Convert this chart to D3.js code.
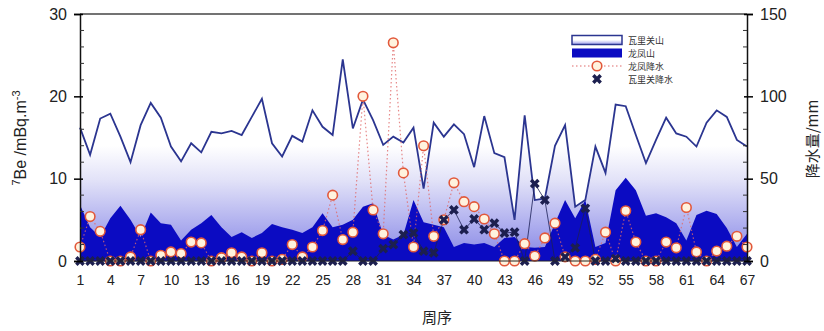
<!DOCTYPE html>
<html>
<head>
<meta charset="utf-8">
<script src="https://cdn.jsdelivr.net/npm/d3@7"></script>
<style>
  body { margin: 0; background: #fff; }
  text { font-family: Arial, "Liberation Sans", sans-serif; }
  .cjk { font-family: "Noto Sans CJK SC", sans-serif; }
</style>
</head>
<body>
<div id="chart"></div>
<script>
// week index 1..67
const weeks = d3.range(1, 68);

// 7Be, mBq/m3 - Waliguan
const waliguanBe = [16.2, 12.9, 17.3, 17.9, 15.1, 12.0, 16.5, 19.2, 17.4, 13.9,
  12.1, 14.3, 13.2, 15.7, 15.5, 15.8, 15.3, 17.5, 19.7, 14.3,
  12.7, 15.2, 14.5, 18.3, 16.3, 15.3, 24.5, 16.1, 19.6, 17.1,
  14.1, 15.1, 14.4, 16.2, 8.8, 16.8, 15.1, 16.6, 15.4, 11.4,
  17.6, 13.1, 12.6, 5.0, 17.7, 7.4, 7.6, 14.0, 16.5, 6.6,
  7.4, 13.9, 10.7, 19.0, 18.8, 15.3, 11.9, 14.7, 17.4, 15.5,
  15.1, 13.9, 16.8, 18.3, 17.5, 14.7, 13.9];

// 7Be, mBq/m3 - Longfengshan
const longfengBe = [6.8, 4.1, 2.9, 5.2, 6.7, 5.0, 2.9, 5.9, 4.6, 4.4,
  2.5, 3.8, 4.6, 5.6, 4.1, 2.9, 3.5, 2.8, 3.4, 4.5,
  4.1, 3.8, 3.4, 4.1, 5.8, 4.1, 4.4, 5.0, 6.6, 7.0,
  3.2, 2.6, 3.2, 7.4, 4.7, 4.4, 4.1, 1.7, 2.2, 2.0,
  2.2, 1.7, 2.8, 2.9, 1.7, 1.6, 1.7, 4.6, 7.4, 5.2,
  7.4, 1.7, 2.2, 8.6, 10.1, 8.6, 5.5, 5.8, 5.3, 4.6,
  2.5, 5.6, 6.1, 5.7, 4.0, 1.7, 3.3];

// precipitation, mm - Longfengshan
const longfengRain = [8.5, 27, 18, 0, 0, 2.5, 19, 0, 3.5, 5.5,
  4.5, 11.5, 11, 0, 2, 5, 2.5, 0, 5, 0,
  1, 10, 2.5, 8.5, 18.5, 40, 13, 17.5, 100, 31,
  16.5, 132.5, 53.5, 8.5, 70, 15, 25, 47.5, 36, 33,
  25.5, 16.5, 0, 0, 10.5, 3, 14, 23, 2.5, 0,
  0, 1, 17.5, 0, 30.5, 11.5, 0, 0, 11.5, 8,
  32.5, 5.5, 0, 6, 9, 15, 8.5];

// precipitation, mm - Waliguan
const waliguanRain = [0, 0, 0, 0, 0, 0, 0, 0, 0, 0,
  0, 0, 0, 0, 0, 0, 0, 0, 0, 0,
  0, 0, 0, 0, 0, 0, 0, 6, 0, 0,
  7.5, 10, 16, 17, 6, 5, 25, 31, 19, 25.5,
  19, 23, 17, 17.5, 0, 47, 37, 0, 2.5, 8,
  32, 0, 0, 1.5, 0, 0, 0, 0, 0, 0,
  0, 0, 0, 0, 0, 0, 0];

const xTicks = d3.range(1, 68, 3);
const leftTicks = [0, 10, 20, 30];
const rightTicks = [0, 50, 100, 150];

const seriesNames = ['瓦里关山', '龙凤山', '龙凤降水', '瓦里关降水'];

const W = 824, H = 331;
const mLeft = 80, mRight = 747, mTop = 14, mBottom = 261;

const svg = d3.select('#chart').append('svg')
  .attr('width', W).attr('height', H);

const x = d3.scaleLinear().domain([1, 67]).range([mLeft, mRight]);
const yL = d3.scaleLinear().domain([0, 30]).range([mBottom, mTop]);
const yR = d3.scaleLinear().domain([0, 150]).range([mBottom, mTop]);

const defs = svg.append('defs');
const grad = defs.append('linearGradient')
  .attr('id', 'waliGrad')
  .attr('gradientUnits', 'userSpaceOnUse')
  .attr('x1', 0).attr('x2', 0)
  .attr('y1', yL(14)).attr('y2', yL(0));
grad.append('stop').attr('offset', 0).attr('stop-color', '#ffffff');
grad.append('stop').attr('offset', 0.3).attr('stop-color', '#e2e2f8');
grad.append('stop').attr('offset', 0.7).attr('stop-color', '#acacee');
grad.append('stop').attr('offset', 1).attr('stop-color', '#8585e4');

const legGrad = defs.append('linearGradient')
  .attr('id', 'legGrad').attr('x1', 0).attr('x2', 0).attr('y1', 0).attr('y2', 1);
legGrad.append('stop').attr('offset', 0).attr('stop-color', '#ffffff');
legGrad.append('stop').attr('offset', 0.5).attr('stop-color', '#ffffff');
legGrad.append('stop').attr('offset', 1).attr('stop-color', '#9a9aea');

const plot = svg.append('g');

// Waliguan gradient area
const areaW = d3.area()
  .x((d, i) => x(weeks[i]))
  .y0(yL(0))
  .y1(d => yL(d));
plot.append('path')
  .datum(waliguanBe)
  .attr('d', areaW)
  .attr('fill', 'url(#waliGrad)');

// Longfeng dark area
plot.append('path')
  .datum(longfengBe)
  .attr('d', areaW)
  .attr('fill', '#0b0bc2');

// Waliguan line
const lineL = d3.line()
  .x((d, i) => x(weeks[i]))
  .y(d => yL(d));
plot.append('path')
  .datum(waliguanBe)
  .attr('d', lineL)
  .attr('fill', 'none')
  .attr('stroke', '#2b3590')
  .attr('stroke-width', 1.8);

// precipitation lines
const lineR = d3.line()
  .x((d, i) => x(weeks[i]))
  .y(d => yR(d));

plot.append('path')
  .datum(longfengRain)
  .attr('d', lineR)
  .attr('fill', 'none')
  .attr('stroke', '#e06a6a')
  .attr('stroke-opacity', 0.8)
  .attr('stroke-width', 1.2)
  .attr('stroke-dasharray', '1.5,2.5');

plot.append('path')
  .datum(waliguanRain)
  .attr('d', lineR)
  .attr('fill', 'none')
  .attr('stroke', '#1c1f55')
  .attr('stroke-width', 0.8);

// circles
plot.selectAll('circle.lf')
  .data(longfengRain)
  .enter()
  .append('circle')
  .attr('class', 'lf')
  .attr('cx', (d, i) => x(weeks[i]))
  .attr('cy', d => yR(d))
  .attr('r', 4.8)
  .attr('fill', '#fff3de')
  .attr('stroke', '#e2583a')
  .attr('stroke-width', 1.6);

// stars
const star = d3.symbol().type(d3.symbolCross).size(60);
plot.selectAll('path.wg')
  .data(waliguanRain)
  .enter()
  .append('path')
  .attr('class', 'wg')
  .attr('d', star)
  .attr('transform', (d, i) => 'translate(' + x(weeks[i]) + ',' + yR(d) + ') rotate(45)')
  .attr('fill', '#1c1f4f');

// frame: top and bottom
svg.append('line')
  .attr('x1', mLeft).attr('x2', mRight)
  .attr('y1', mTop).attr('y2', mTop)
  .attr('stroke', '#444').attr('stroke-width', 1.5);
svg.append('line')
  .attr('x1', mLeft).attr('x2', mRight)
  .attr('y1', mBottom).attr('y2', mBottom)
  .attr('stroke', '#222').attr('stroke-width', 1);

// left axis
const yAxisL = d3.axisLeft(yL).tickValues(leftTicks).tickSize(6).tickPadding(7);
const gL = svg.append('g')
  .attr('transform', 'translate(' + mLeft + ',0)')
  .call(yAxisL);
gL.select('.domain').attr('stroke', '#111').attr('stroke-width', 1.5);
gL.selectAll('.tick line').attr('stroke-width', 1.5).attr('x2', -6).attr('x1', 3);
gL.selectAll('.tick text').attr('font-size', 16).attr('fill', '#222')
  .attr('font-family', 'Arial, "Liberation Sans", sans-serif');
gL.selectAll('.minor')
  .data(d3.range(2, 30, 2).filter(v => v % 10 !== 0))
  .enter().append('line')
  .attr('class', 'minor')
  .attr('x1', 0).attr('x2', 4)
  .attr('y1', d => yL(d)).attr('y2', d => yL(d))
  .attr('stroke', '#333').attr('stroke-width', 1);

// right axis
const yAxisR = d3.axisRight(yR).tickValues(rightTicks).tickSize(6).tickPadding(7);
const gR = svg.append('g')
  .attr('transform', 'translate(' + mRight + ',0)')
  .call(yAxisR);
gR.select('.domain').attr('stroke', '#111').attr('stroke-width', 1.5);
gR.selectAll('.tick line').attr('stroke-width', 1.5).attr('x1', -3);
gR.selectAll('.tick text').attr('font-size', 16).attr('fill', '#222')
  .attr('font-family', 'Arial, "Liberation Sans", sans-serif');
gR.selectAll('.minor')
  .data(d3.range(10, 150, 10).filter(v => v % 50 !== 0))
  .enter().append('line')
  .attr('class', 'minor')
  .attr('x1', 0).attr('x2', -4)
  .attr('y1', d => yR(d)).attr('y2', d => yR(d))
  .attr('stroke', '#333').attr('stroke-width', 1);

// bottom axis labels
const xAxis = d3.axisBottom(x).tickValues(xTicks).tickSize(0).tickPadding(14)
  .tickFormat(d3.format('d'));
const gX = svg.append('g')
  .attr('transform', 'translate(0,' + mBottom + ')')
  .call(xAxis);
gX.select('.domain').remove();
gX.selectAll('.tick text').attr('font-size', 14).attr('fill', '#222')
  .attr('font-family', 'Arial, "Liberation Sans", sans-serif');

// axis titles
const tL = svg.append('text')
  .attr('transform', 'translate(26,138) rotate(-90)')
  .attr('text-anchor', 'middle')
  .attr('font-size', 16)
  .attr('fill', '#222');
tL.append('tspan').attr('font-size', 11).attr('dy', -6).text('7');
tL.append('tspan').attr('dy', 6).text('Be /mBq.m');
tL.append('tspan').attr('font-size', 11).attr('dy', -6).text('-3');

svg.append('text')
  .attr('class', 'cjk')
  .attr('transform', 'translate(818,139) rotate(-90)')
  .attr('text-anchor', 'middle')
  .attr('font-size', 15)
  .attr('fill', '#222')
  .text('降水量/mm');

svg.append('text')
  .attr('class', 'cjk')
  .attr('x', 437).attr('y', 323)
  .attr('text-anchor', 'middle')
  .attr('font-size', 15)
  .attr('fill', '#222')
  .text('周序');

// legend
const lg = svg.append('g');
const lx = 572, lw = 50, rowY = [40, 53, 66, 79];
lg.append('rect')
  .attr('x', lx).attr('y', rowY[0] - 4.5).attr('width', lw).attr('height', 9)
  .attr('fill', 'url(#legGrad)').attr('stroke', '#2b3590').attr('stroke-width', 1.5);
lg.append('rect')
  .attr('x', lx).attr('y', rowY[1] - 4.5).attr('width', lw).attr('height', 9)
  .attr('fill', '#0b0bc2');
lg.append('line')
  .attr('x1', lx).attr('x2', lx + lw).attr('y1', rowY[2]).attr('y2', rowY[2])
  .attr('stroke', '#e06a6a').attr('stroke-width', 1.2).attr('stroke-dasharray', '1.5,2.5');
lg.append('circle')
  .attr('cx', lx + lw / 2).attr('cy', rowY[2]).attr('r', 4.8)
  .attr('fill', '#fff3de').attr('stroke', '#e2583a').attr('stroke-width', 1.6);
lg.append('path')
  .attr('d', star)
  .attr('transform', 'translate(' + (lx + lw / 2) + ',' + rowY[3] + ') rotate(45)')
  .attr('fill', '#1c1f4f');
lg.selectAll('text.leg')
  .data(seriesNames)
  .enter().append('text')
  .attr('class', 'leg cjk')
  .attr('x', 628)
  .attr('y', (d, i) => rowY[i] + 3.5)
  .attr('font-size', 9)
  .attr('fill', '#333')
  .text(d => d);
</script>
</body>
</html>
